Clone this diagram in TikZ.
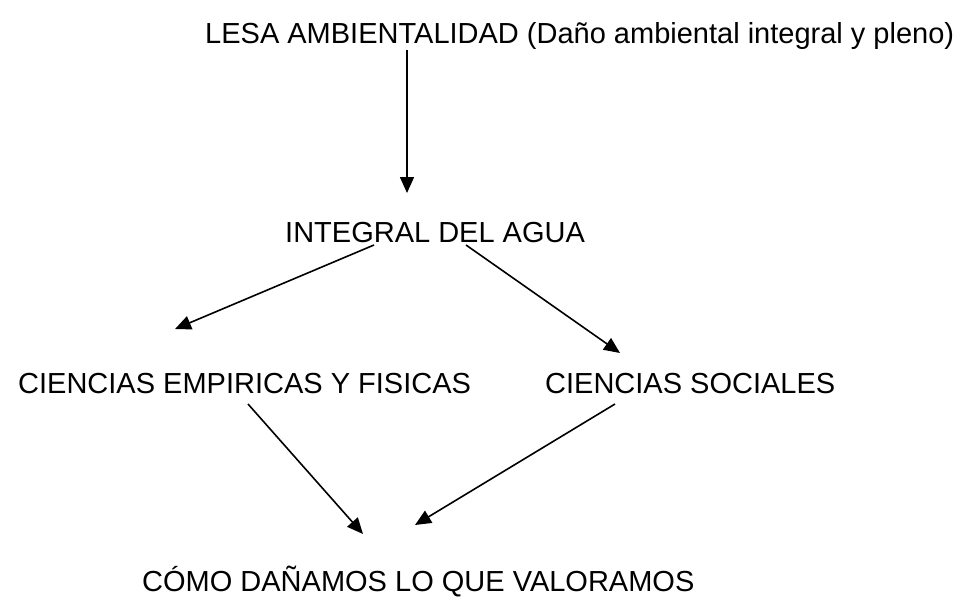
\documentclass[tikz,border=0pt]{standalone}
\usepackage{fontspec}
\setmainfont{Liberation Sans}
\usetikzlibrary{arrows.meta}
\begin{document}
\begin{tikzpicture}[x=1pt,y=-1pt,
  lbl/.style={anchor=base west,inner sep=0pt,font=\fontsize{29}{32}\selectfont},
  arr/.style={line width=1.6pt,-{Triangle[length=16pt,width=14pt]}}]
\useasboundingbox[fill=white] (0,0) rectangle (957,597);
\node[lbl] (lesa) at (205,43) {LESA AMBIENTALIDAD (Daño ambiental integral y pleno)};
\node[lbl] (agua) at (285,242) {INTEGRAL DEL AGUA};
\node[lbl] (emp) at (18,393) {CIENCIAS EMPIRICAS Y FISICAS};
\node[lbl] (soc) at (545,393) {CIENCIAS SOCIALES};
\node[lbl] (como) at (142,591) {CÓMO DAÑAMOS LO QUE VALORAMOS};
\coordinate (s1) at (407,50);  \coordinate (e1) at (407,193);
\coordinate (s2) at (374,245); \coordinate (e2) at (175,329);
\coordinate (s3) at (466,245); \coordinate (e3) at (620,353);
\coordinate (s4) at (248,404); \coordinate (e4) at (363,534);
\coordinate (s5) at (615,404); \coordinate (e5) at (415,525);
\draw[arr] (s1) -- (e1);
\draw[arr] (s2) -- (e2);
\draw[arr] (s3) -- (e3);
\draw[arr] (s4) -- (e4);
\draw[arr] (s5) -- (e5);
\end{tikzpicture}
\end{document}
